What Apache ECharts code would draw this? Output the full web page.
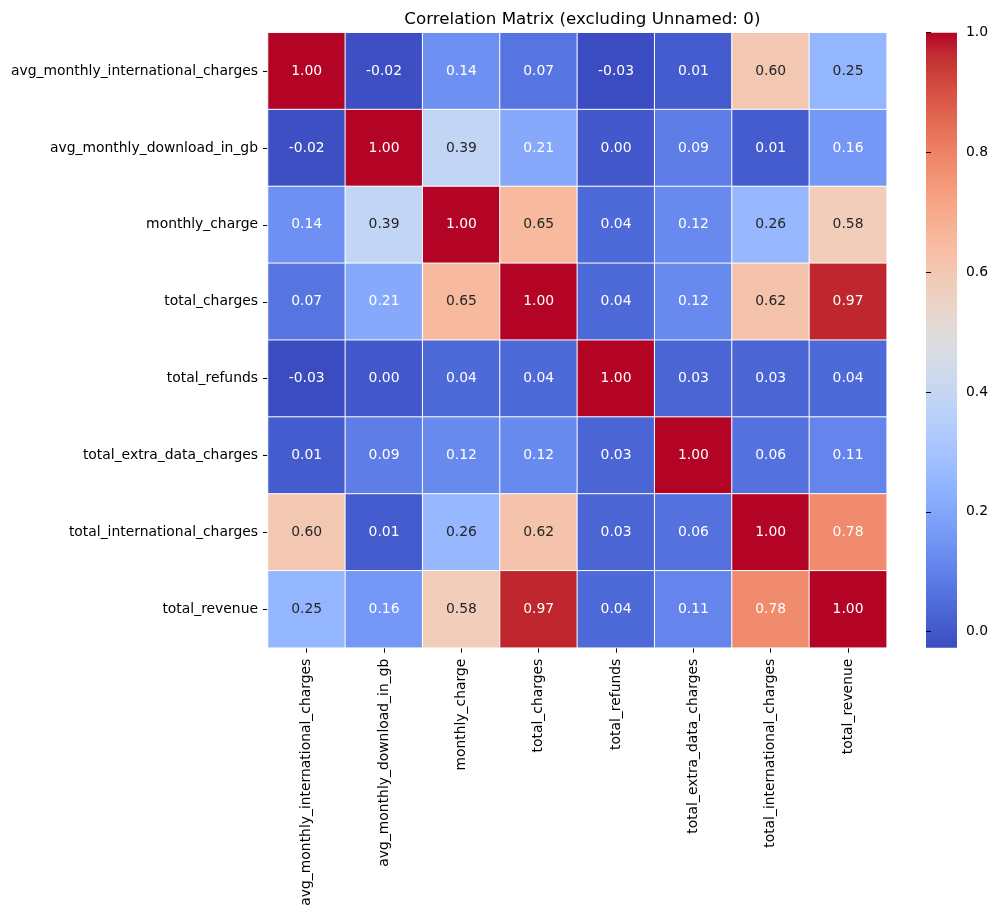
<!DOCTYPE html>
<html>
<head>
<meta charset="utf-8">
<script src="https://cdn.jsdelivr.net/npm/echarts@6/dist/echarts.min.js"></script>
<style>
  html, body { margin: 0; padding: 0; background: #fff; }
  #main { width: 998px; height: 915px; }
</style>
</head>
<body>
<div id="main"></div>
<script>
// variable names (rows top -> bottom, columns left -> right)
var names = [
  'avg_monthly_international_charges',
  'avg_monthly_download_in_gb',
  'monthly_charge',
  'total_charges',
  'total_refunds',
  'total_extra_data_charges',
  'total_international_charges',
  'total_revenue'
];

// correlation values, one row per variable
var row0 = [1.00, -0.02, 0.14, 0.07, -0.03, 0.01, 0.60, 0.25];
var row1 = [-0.02, 1.00, 0.39, 0.21, 0.00, 0.09, 0.01, 0.16];
var row2 = [0.14, 0.39, 1.00, 0.65, 0.04, 0.12, 0.26, 0.58];
var row3 = [0.07, 0.21, 0.65, 1.00, 0.04, 0.12, 0.62, 0.97];
var row4 = [-0.03, 0.00, 0.04, 0.04, 1.00, 0.03, 0.03, 0.04];
var row5 = [0.01, 0.09, 0.12, 0.12, 0.03, 1.00, 0.06, 0.11];
var row6 = [0.60, 0.01, 0.26, 0.62, 0.03, 0.06, 1.00, 0.78];
var row7 = [0.25, 0.16, 0.58, 0.97, 0.04, 0.11, 0.78, 1.00];
var rows = [row0, row1, row2, row3, row4, row5, row6, row7];

// colorbar ticks
var cbTicks = [0, 0.2, 0.4, 0.6, 0.8, 1.0];
var vmin = -0.027;
var vmax = 1.0;

// coolwarm
var coolwarm = [
  [59,76,192],[68,90,204],[77,104,215],[87,117,225],[98,130,234],[108,142,241],
  [119,154,247],[130,165,251],[141,176,254],[152,185,255],[163,194,255],[174,201,253],
  [184,208,249],[194,213,244],[204,217,238],[213,219,230],[221,221,221],[229,216,209],
  [236,211,197],[241,204,185],[245,196,173],[247,187,160],[247,177,148],[247,166,135],
  [244,154,123],[241,141,111],[236,127,99],[229,112,88],[222,96,77],[213,80,66],
  [203,62,56],[192,40,47],[180,4,38]
];
var cmapColors = coolwarm.map(function (c) { return 'rgb(' + c.join(',') + ')'; });

function cmapAt(v) {
  var t = (v - vmin) / (vmax - vmin);
  t = Math.max(0, Math.min(1, t));
  var p = t * (coolwarm.length - 1);
  var i = Math.min(Math.floor(p), coolwarm.length - 2);
  var f = p - i;
  var a = coolwarm[i], b = coolwarm[i + 1];
  return [0, 1, 2].map(function (k) { return a[k] + (b[k] - a[k]) * f; });
}
function lum(rgb) {
  var l = rgb.map(function (c) {
    c = c / 255;
    return c <= 0.03928 ? c / 12.92 : Math.pow((c + 0.055) / 1.055, 2.4);
  });
  return 0.2126 * l[0] + 0.7152 * l[1] + 0.0722 * l[2];
}

var data = [];
rows.forEach(function (r, y) {
  r.forEach(function (v, x) {
    data.push({
      value: [x, y, v],
      label: { color: lum(cmapAt(v)) > 0.408 ? '#262626' : '#ffffff' }
    });
  });
});

// gradient for the colorbar, bottom (vmin) -> top (vmax)
var cbStops = cmapColors.map(function (c, i) {
  return { offset: i / (cmapColors.length - 1), color: c };
});

var font = 'DejaVu Sans';
var fs = 13.9;
var gx = 268, gy = 32.7, gw = 618.7, gh = 615;

var myChart = echarts.init(document.getElementById('main'));
var option = {
  backgroundColor: '#fff',
  animation: false,
  title: {
    text: 'Correlation Matrix (excluding Unnamed: 0)',
    left: gx + gw / 2,
    textAlign: 'center',
    top: 6,
    textStyle: { fontFamily: font, fontSize: 16.7, fontWeight: 'normal', color: '#000' }
  },
  grid: [
    { left: gx, top: gy, width: gw, height: gh },
    {
      left: 926, top: gy, width: 31, height: gh,
      show: true, borderWidth: 0,
      backgroundColor: new echarts.graphic.LinearGradient(0, 1, 0, 0, cbStops)
    }
  ],
  xAxis: [
    {
      type: 'category',
      data: names,
      gridIndex: 0,
      axisLine: { show: false },
      axisTick: { show: true, alignWithLabel: true, length: 5, lineStyle: { color: '#000', width: 1 } },
      splitLine: { show: false },
      axisLabel: { rotate: 90, margin: 11, fontFamily: font, fontSize: fs, color: '#000', interval: 0 }
    },
    {
      type: 'value', gridIndex: 1, show: false, min: 0, max: 1,
      axisLine: { show: false }, axisTick: { show: false }, axisLabel: { show: false },
      splitLine: { show: false }, minorTick: { show: false }, minorSplitLine: { show: false }
    }
  ],
  yAxis: [
    {
      type: 'category',
      data: names,
      inverse: true,
      gridIndex: 0,
      axisLine: { show: false },
      axisTick: { show: true, alignWithLabel: true, length: 5, lineStyle: { color: '#000', width: 1 } },
      splitLine: { show: false },
      axisLabel: { margin: 10, fontFamily: font, fontSize: fs, color: '#000', interval: 0 }
    },
    {
      type: 'value',
      gridIndex: 1,
      position: 'right',
      min: vmin,
      max: vmax,
      axisLine: { show: false },
      splitLine: { show: false },
      splitArea: { show: false },
      minorTick: { show: false },
      minorSplitLine: { show: false },
      axisTick: { show: true, inside: false, length: 5, customValues: cbTicks, lineStyle: { color: '#000', width: 1 } },
      axisLabel: {
        margin: 9,
        customValues: cbTicks,
        fontFamily: font,
        fontSize: fs,
        color: '#000',
        formatter: function (v) { return v.toFixed(1); }
      }
    }
  ],
  visualMap: {
    type: 'continuous',
    show: false,
    seriesIndex: 0,
    min: vmin,
    max: vmax,
    inRange: { color: cmapColors }
  },
  series: [
    {
      type: 'heatmap',
      xAxisIndex: 0,
      yAxisIndex: 0,
      data: data,
      itemStyle: { borderColor: '#ffffff', borderWidth: 1 },
      label: {
        show: true,
        fontFamily: font,
        fontSize: fs,
        formatter: function (p) { return p.value[2].toFixed(2); }
      },
      emphasis: { disabled: true }
    }
  ]
};
myChart.setOption(option);
</script>
</body>
</html>
